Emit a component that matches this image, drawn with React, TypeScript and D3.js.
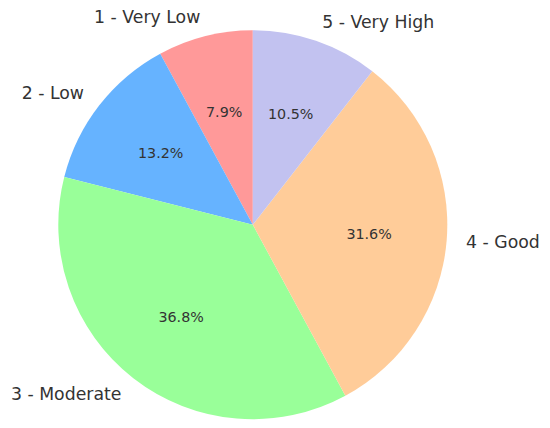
import React from 'react';
import * as d3 from 'd3';

const categories = ['1 - Very Low', '2 - Low', '3 - Moderate', '4 - Good', '5 - Very High'];
const counts = [3, 5, 14, 12, 4];
const colors = ['#ff9999', '#66b3ff', '#99ff99', '#ffcc99', '#c2c2f0'];

const width = 550;
const height = 428;
const cx = 252.8;
const cy = 224.7;
const radius = 194.5;

const App: React.FC = () => {
    const total = d3.sum(counts);

    // matplotlib style: start at top, go counterclockwise
    const pie = d3.pie<number>()
        .sort(null)
        .startAngle(0)
        .endAngle(-2 * Math.PI);

    const arcs = pie(counts);

    const arc = d3.arc<d3.PieArcDatum<number>>()
        .innerRadius(0)
        .outerRadius(radius);

    const fmt = d3.format('.1f');

    return (
        <svg
            width={width}
            height={height}
            style={{ position: 'absolute', left: 0, top: 0, fontFamily: 'DejaVu Sans, sans-serif' }}
        >
            <g transform={`translate(${cx},${cy})`}>
                {arcs.map((d, i) => (
                    <path key={categories[i]} d={arc(d) || ''} fill={colors[i]} />
                ))}
                {arcs.map((d, i) => {
                    const mid = (d.startAngle + d.endAngle) / 2;
                    const lx = Math.sin(mid) * radius * 1.1;
                    const ly = -Math.cos(mid) * radius * 1.1;
                    const px = Math.sin(mid) * radius * 0.6;
                    const py = -Math.cos(mid) * radius * 0.6;
                    return (
                        <g key={'t' + i}>
                            <text
                                x={lx}
                                y={ly}
                                textAnchor={lx < 0 ? 'end' : 'start'}
                                dominantBaseline="central"
                                fontSize={17.3}
                                fill="#333333"
                            >
                                {categories[i]}
                            </text>
                            <text
                                x={px}
                                y={py}
                                textAnchor="middle"
                                dominantBaseline="central"
                                fontSize={14.3}
                                fill="#333333"
                            >
                                {fmt((counts[i] / total) * 100) + '%'}
                            </text>
                        </g>
                    );
                })}
            </g>
        </svg>
    );
};

export default App;
